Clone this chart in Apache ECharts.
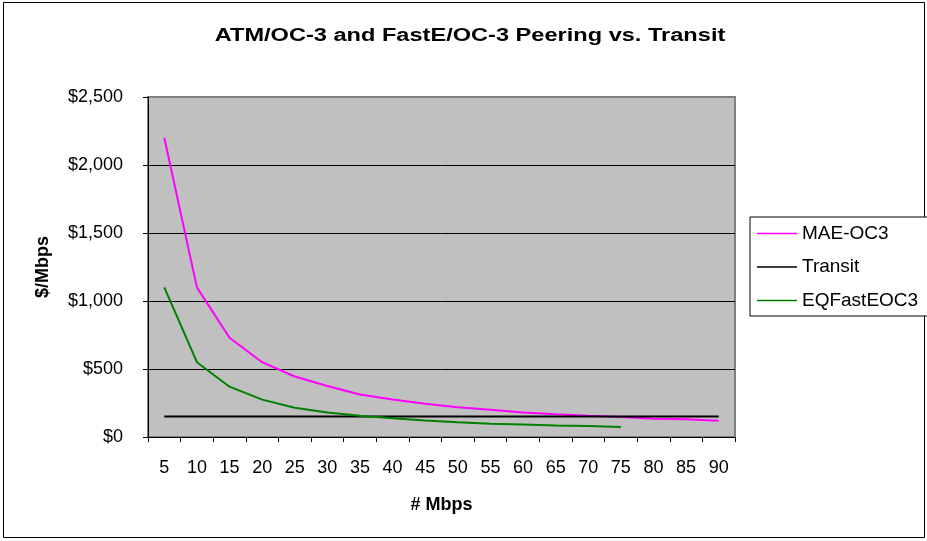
<!DOCTYPE html>
<html><head><meta charset="utf-8">
<script src="https://cdn.jsdelivr.net/npm/echarts@6/dist/echarts.min.js"></script>
<style>html,body{margin:0;padding:0;background:#fff}#c{width:927px;height:541px}</style>
</head><body><div id="c"></div>
<script>
const categories = ['5','10','15','20','25','30','35','40','45','50','55','60','65','70','75','80','85','90'];
const maeOC3 = [2200,1100,730,550,445,375,312,275,244,218,200,180,168,157,147,135,130,120];
const transit = [150,150,150,150,150,150,150,150,150,150,150,150,150,150,150,150,150,150];
const eqFastEOC3 = [1100,550,370,275,215,180,157,137,122,108,97,92,85,80,74];
const yTicks = { min: 0, max: 2500, interval: 500 };
const titleText = 'ATM/OC-3 and FastE/OC-3 Peering vs. Transit';

const F = 'Liberation Sans, Arial, sans-serif';
const chart = echarts.init(document.getElementById('c'));
chart.setOption({
  animation: false,
  backgroundColor: '#fff',
  graphic: [
    { type: 'rect', shape: { x: 3.5, y: 2.5, width: 921, height: 535 }, style: { fill: 'none', stroke: '#000', lineWidth: 1 }, silent: true },
    { type: 'text', x: 470, y: 36, scaleX: 1.31, style: { text: titleText, align: 'center', verticalAlign: 'middle',
      font: 'bold 18px Liberation Sans, Arial, sans-serif', fill: '#000' }, silent: true }
  ],
  grid: { left: 148, top: 97, right: 192, bottom: 104, show: true, backgroundColor: '#C0C0C0', borderColor: '#808080', borderWidth: 2 },
  legend: { orient: 'vertical', left: 750, top: 217,
    padding: [7, 20, 6, 7], itemGap: 14.5, itemWidth: 40, itemHeight: 1.5, icon: 'rect',
    borderColor: '#000', borderWidth: 1, backgroundColor: '#fff',
    textStyle: { fontFamily: F, fontSize: 19, color: '#000' },
    data: ['MAE-OC3', 'Transit', 'EQFastEOC3'] },
  xAxis: { type: 'category', data: categories, boundaryGap: true,
    name: '# Mbps', nameLocation: 'middle', nameGap: 59, nameMoveOverlap: false,
    nameTextStyle: { fontFamily: F, fontSize: 18, fontWeight: 'bold', color: '#000' },
    axisLine: { lineStyle: { color: '#000', width: 1 } },
    axisTick: { show: true, interval: 0, length: 5, lineStyle: { color: '#000' } },
    axisLabel: { interval: 0, fontFamily: F, fontSize: 18, color: '#000', margin: 22 },
    splitLine: { show: false } },
  yAxis: { type: 'value', min: yTicks.min, max: yTicks.max, interval: yTicks.interval,
    name: '$/Mbps', nameLocation: 'middle', nameGap: 96, nameRotate: 90, nameMoveOverlap: false,
    nameTextStyle: { fontFamily: F, fontSize: 18, fontWeight: 'bold', color: '#000' },
    axisLine: { show: true, lineStyle: { color: '#000', width: 1 } },
    axisTick: { show: true, length: 5, lineStyle: { color: '#000' } },
    axisLabel: { fontFamily: F, fontSize: 18, color: '#000', margin: 25,
      formatter: v => '$' + v.toLocaleString('en-US') },
    splitLine: { show: true, lineStyle: { color: ['#000','#000','#000','#000','#000','#808080'], width: 1 } } },
  series: [
    { name: 'MAE-OC3', type: 'line', data: maeOC3, showSymbol: false, symbol: 'none', lineStyle: { color: '#FF00FF', width: 2 }, itemStyle: { color: '#FF00FF' } },
    { name: 'Transit', type: 'line', data: transit, showSymbol: false, symbol: 'none', lineStyle: { color: '#000', width: 2 }, itemStyle: { color: '#000' } },
    { name: 'EQFastEOC3', type: 'line', data: eqFastEOC3, showSymbol: false, symbol: 'none', lineStyle: { color: '#008000', width: 2 }, itemStyle: { color: '#008000' } }
  ]
});
</script></body></html>
